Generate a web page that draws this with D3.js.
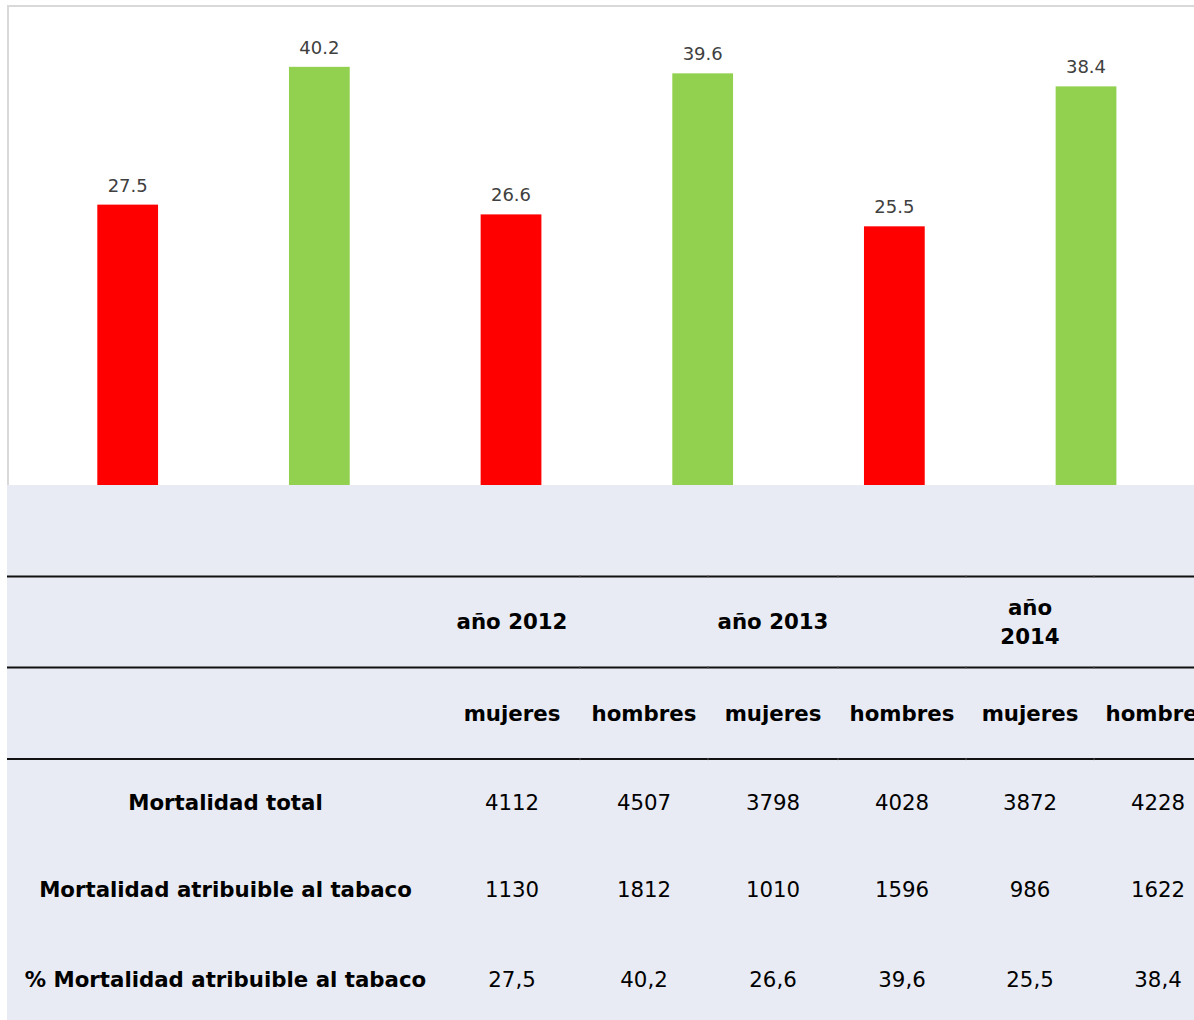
<!DOCTYPE html>
<html>
<head>
<meta charset="utf-8">
<script src="https://cdn.jsdelivr.net/npm/d3@7"></script>
<style>
  body { margin: 0; background: #fff; overflow: hidden; }
  text { font-family: "DejaVu Sans", sans-serif; }
</style>
</head>
<body>
<script>
// values
const categories = ['2012 mujeres', '2012 hombres', '2013 mujeres', '2013 hombres', '2014 mujeres', '2014 hombres'];
const pctValues = [27.5, 40.2, 26.6, 39.6, 25.5, 38.4];
const barColors = ['#ff0000', '#92d050', '#ff0000', '#92d050', '#ff0000', '#92d050'];

const yearHeaders = [['año 2012'], [], ['año 2013'], [], ['año', '2014'], []];
const subHeaders = ['mujeres', 'hombres', 'mujeres', 'hombres', 'mujeres', 'hombres'];
const rowLabels = ['Mortalidad total', 'Mortalidad atribuible al tabaco', '% Mortalidad atribuible al tabaco'];
const mortalidadTotal = ['4112', '4507', '3798', '4028', '3872', '4228'];
const mortalidadTabaco = ['1130', '1812', '1010', '1596', '986', '1622'];
const pctTabaco = ['27,5', '40,2', '26,6', '39,6', '25,5', '38,4'];

const width = 1194, height = 1020;
const svg = d3.select('body').append('svg')
              .attr('width', width)
              .attr('height', height);

// chart frame (only top and left edges are visible)
svg.append('line').attr('x1', 8).attr('x2', width).attr('y1', 6).attr('y2', 6)
   .attr('stroke', '#d9d9d9').attr('stroke-width', 2);
svg.append('line').attr('x1', 8).attr('x2', 8).attr('y1', 5).attr('y2', 485)
   .attr('stroke', '#d9d9d9').attr('stroke-width', 2);

const x = d3.scaleBand()
            .domain(categories)
            .range([31.85, 1181.85])
            .paddingInner(0.683)
            .paddingOuter(0.3415);
const y = d3.scaleLinear()
            .domain([0, 45])
            .range([503, 14.75]);

const bars = svg.append('g');
bars.selectAll('rect')
    .data(pctValues)
    .enter()
    .append('rect')
    .attr('x', (d, i) => x(categories[i]))
    .attr('width', x.bandwidth())
    .attr('y', d => y(d))
    .attr('height', d => y(0) - y(d))
    .attr('fill', (d, i) => barColors[i]);

bars.selectAll('text')
    .data(pctValues)
    .enter()
    .append('text')
    .attr('x', (d, i) => x(categories[i]) + x.bandwidth() / 2)
    .attr('y', d => y(d) - 13)
    .attr('text-anchor', 'middle')
    .attr('font-size', 18)
    .attr('fill', '#404040')
    .text(d => d.toFixed(1));

// data table under the chart
const tableTop = 485;
const colEdges = [7, 444, 580, 708, 838, 966, 1094, 1222];
const lineYs = [576.5, 667.5, 759];
const colCenter = i => (colEdges[i] + colEdges[i + 1]) / 2;

const table = svg.append('g');
table.append('rect')
     .attr('x', 7).attr('y', tableTop)
     .attr('width', width - 7).attr('height', height - tableTop)
     .attr('fill', '#e8ebf3');

lineYs.forEach(ly => {
   table.append('line')
        .attr('x1', 7).attr('x2', width)
        .attr('y1', ly).attr('y2', ly)
        .attr('stroke', '#111').attr('stroke-width', 2.2);
   // faint cell joints
   colEdges.slice(2, 7).forEach(cx => {
      table.append('line')
           .attr('x1', cx).attr('x2', cx)
           .attr('y1', ly - 1.1).attr('y2', ly + 1.1)
           .attr('stroke', '#555').attr('stroke-width', 1);
   });
});

const fs = 21.3;
// year headers
yearHeaders.forEach((lines, i) => {
   const cy = 621.5 - (lines.length - 1) * 29 / 2;
   lines.forEach((ln, k) => {
      table.append('text')
           .attr('x', colCenter(i + 1))
           .attr('y', cy + k * 29)
           .attr('dy', '0.36em')
           .attr('text-anchor', 'middle')
           .attr('font-size', fs)
           .attr('font-weight', 'bold')
           .text(ln);
   });
});

table.selectAll('text.sub')
     .data(subHeaders)
     .enter()
     .append('text')
     .attr('class', 'sub')
     .attr('x', (d, i) => colCenter(i + 1))
     .attr('y', 713.5)
     .attr('dy', '0.36em')
     .attr('text-anchor', 'middle')
     .attr('font-size', fs)
     .attr('font-weight', 'bold')
     .text(d => d);

const rowCenters = [802.6, 889.3, 979.3];
const rows = [mortalidadTotal, mortalidadTabaco, pctTabaco];
rows.forEach((vals, r) => {
   table.append('text')
        .attr('x', colCenter(0))
        .attr('y', rowCenters[r])
        .attr('dy', '0.36em')
        .attr('text-anchor', 'middle')
        .attr('font-size', fs)
        .attr('font-weight', 'bold')
        .text(rowLabels[r]);
   table.selectAll('text.r' + r)
        .data(vals)
        .enter()
        .append('text')
        .attr('class', 'r' + r)
        .attr('x', (d, i) => colCenter(i + 1))
        .attr('y', rowCenters[r])
        .attr('dy', '0.36em')
        .attr('text-anchor', 'middle')
        .attr('font-size', fs)
        .text(d => d);
});
</script>
</body>
</html>
